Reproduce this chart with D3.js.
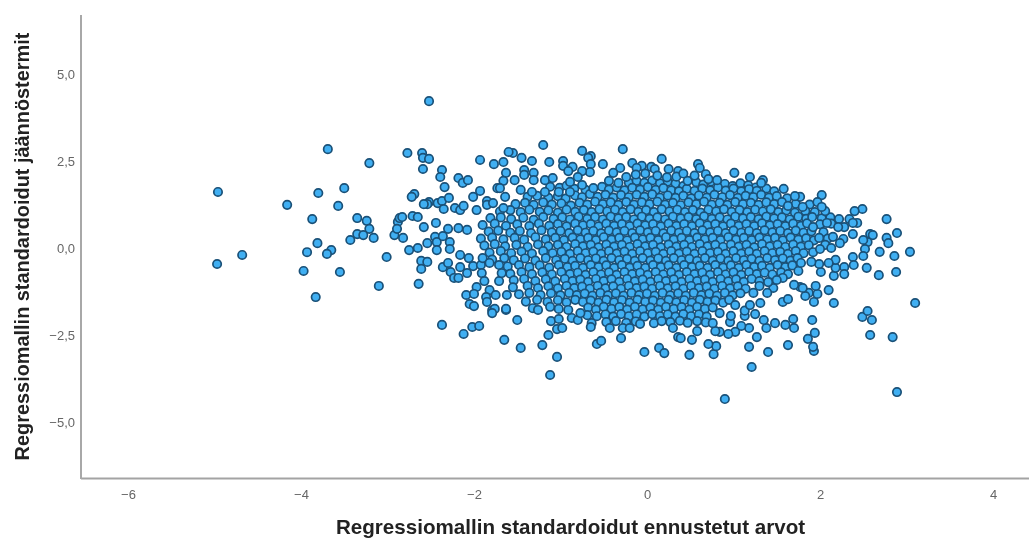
<!DOCTYPE html>
<html><head><meta charset="utf-8">
<script src="https://cdn.jsdelivr.net/npm/d3@7"></script>
<style>html,body{margin:0;padding:0;background:#fff;overflow:hidden}svg{display:block;filter:blur(.5px)}</style>
</head><body><svg id="c" width="1029" height="539"></svg>
<script>
const xLabel="Regressiomallin standardoidut ennustetut arvot";
const yLabel="Regressiomallin standardoidut jäännöstermit";
const xTicks=[-6,-4,-2,0,2,4];
const yTicks=[-5,-2.5,0,2.5,5];
const leftPoints=[[-4.96,1.61],[-4.68,-.2],[-4.97,-.46],[-4.16,1.24],[-3.69,2.84],[-3.21,2.44],[-3.8,1.58],[-3.5,1.72],[-3.57,1.21],[-3.87,.83],[-3.35,.86],[-3.24,.78],[-3.21,.55],[-3.35,.4],[-3.28,.37],[-3.16,.29],[-3.43,.23],[-3.81,.14],[-3.93,-.12],[-3.65,-.06],[-3.7,-.17],[-3.01,-.26],[-3.97,-.66],[-3.55,-.69],[-3.83,-1.41],[-3.1,-1.09],[-2.92,.37],[-2.88,.75],[-2.89,.55],[-2.86,.86],[-2.52,4.22],[-2.77,2.73],[-2.6,2.73],[-2.59,2.59],[-2.52,2.56],[-2.59,2.27],[-2.37,2.24],[-2.39,2.04],[-2.34,1.75],[-2.18,2.01],[-2.13,1.87],[-2.07,1.95],[-1.93,2.53],[-1.77,2.41],[-1.66,2.47],[-1.6,2.76],[-1.63,2.16],[-1.66,1.93],[-1.73,1.72],[-1.7,1.72],[-1.93,1.64],[-2.69,1.55],[-2.72,1.47],[-2.52,1.32],[-2.54,1.26],[-2.58,1.26],[-2.42,1.29],[-2.37,1.35],[-2.29,1.44],[-2.35,1.12],[-2.22,1.15],[-2.16,1.09],[-2.12,1.21],[-2.01,1.47],[-1.97,1.09],[-1.85,1.35],[-1.85,1.24],[-1.78,1.29],[-1.64,1.47],[-1.66,1.15],[-2.83,.89],[-2.71,.92],[-2.65,.89],[-2.82,.29],[-2.58,.6],[-2.44,.72],[-2.3,.55],[-2.18,.57],[-2.08,.52],[-2.54,.14],[-2.45,.32],[-2.43,.17],[-2.36,.34],[-2.28,.17],[-2.43,-.06],[-2.28,-.03],[-2.75,-.06],[-2.65,0],[-2.61,-.37],[-2.54,-.4],[-2.61,-.6],[-2.36,-.55],[-2.3,-.43],[-2.27,-.69],[-2.23,-.86],[-2.18,-.86],[-2.16,-.2],[-2.06,-.29],[-2.16,-.55],[-2.08,-.72],[-2.01,-.52],[-1.92,-.49],[-1.9,-.29],[-1.82,-.43],[-1.91,-.72],[-1.88,-.95],[-1.71,-.49],[-1.71,-.95],[-1.68,-.72],[-2.64,-1.03],[-1.97,-1.12],[-2.09,-1.35],[-2,-1.32],[-1.82,-1.21],[-1.86,-1.41],[-1.75,-1.35],[-1.85,-1.55],[-2.05,-1.61],[-2,-1.67],[-1.76,-1.75],[-1.79,-1.87],[-1.63,-1.75],[-1.62,-1.35],[-2.37,-2.21],[-2.12,-2.47],[-2.02,-2.27],[-1.94,-2.24]];
const lowerPoints=[[-1.65,-2.64],[-1.46,-2.87],[-1.21,-2.79],[-1.04,-3.13],[-1.12,-3.65],[-1.5,-2.07],[-1.14,-2.5],[-1.04,-2.33],[-.98,-2.3],[-1.11,-2.1],[-1.02,-2.04],[-1.63,-1.78],[-1.79,-1.79],[-1.26,-1.78],[-.58,-2.76],[-.53,-2.67],[-.3,-2.59],[-.43,-2.3],[-.64,-2.16],[-.65,-2.27],[-.28,-2.3],[-.2,-2.3],[-.03,-2.99],[.14,-2.87],[.2,-3.02],[.49,-3.07],[.52,-2.64],[.36,-2.56],[.39,-2.59],[.3,-2.3],[.58,-2.39],[-.87,-2.01],[-.8,-2.07],[-.77,-1.87],[-.91,-1.78],[.08,-2.16],[.17,-2.1],[-.08,-2.18],[.9,-4.34],[2.89,-4.14],[1.21,-3.42],[1.4,-2.99],[1.18,-2.84],[1.27,-2.56],[.77,-3.05],[.8,-2.82],[.71,-2.76],[1.63,-2.79],[1.93,-2.96],[1.92,-2.84],[1.86,-2.61],[1.94,-2.44],[1.91,-2.07],[1.7,-2.3],[1.69,-2.04],[1.6,-2.21],[1.48,-2.16],[1.38,-2.3],[1.35,-2.07],[1.18,-2.3],[1.09,-2.24],[1.02,-2.41],[.94,-2.47],[.84,-2.41],[.79,-2.39],[.76,-2.16],[.96,-2.13],[.97,-1.95],[1.25,-1.9],[1.13,-1.95],[1.13,-1.8],[.84,-1.87],[1.31,-1.58],[1.19,-1.64],[1.02,-1.64]];
const rightPoints=[[1.57,-1.55],[1.63,-1.47],[1.93,-1.55],[1.97,-1.32],[2.16,-1.58],[1.87,-1.29],[1.83,-1.38],[1.95,-1.09],[2.1,-1.21],[1.77,-1.12],[1.7,-1.06],[1.8,-1.15],[1.57,-.86],[1.5,-.92],[1.46,-1.15],[1.4,-.98],[1.39,-1.29],[1.23,-1.29],[2.49,-1.98],[2.55,-1.81],[2.6,-2.07],[2.58,-2.5],[2.84,-2.56],[3.1,-1.58],[2.88,-.69],[2.68,-.78],[2.54,-.57],[2.86,-.23],[3.04,-.11],[2.69,-.11],[2.89,.43],[2.77,.29],[2.79,.14],[2.77,.83],[2.58,.4],[2.61,.37],[2.55,.17],[2.5,.23],[2.52,-.03],[2.5,-.23],[2.38,-.26],[2.39,-.49],[2.38,.4],[2.28,-.55],[2.28,-.75],[2.16,-.8],[2.18,-.57],[2.18,-.34],[2.1,-.43],[2.01,-.69],[1.99,-.46],[1.9,-.4],[1.75,-.66],[1.78,-.43],[2.49,1.12],[2.4,1.06],[2.34,.83],[2.43,.72],[2.38,.72],[2.22,.83],[2.28,.6],[2.21,.6],[2.27,.26],[2.23,.14],[2.15,.32],[2.13,0],[2,-.03],[1.99,.29],[2.02,1.52],[1.97,1.32],[2.06,1.06],[2.02,1.18],[2.08,.72],[1.91,.89],[1.92,.6],[1.77,1.47],[1.71,1.49],[1.58,1.7],[1.63,1.21],[1.8,1.18],[1.19,2.04],[1.01,2.16],[1.34,1.95],[1.32,1.87],[.81,1.95]];
const upperPoints=[[-1.55,2.73],[-1.45,2.59],[-1.33,2.5],[-1.2,2.96],[-1.13,2.47],[-.97,2.5],[-.97,2.36],[-.86,2.33],[-.75,2.79],[-.65,2.64],[-.68,2.59],[-.65,2.41],[-.51,2.41],[-.66,2.18],[-.75,2.21],[-.91,2.21],[-.28,2.84],[-.17,2.44],[-.06,2.36],[.17,2.56],[.05,2.33],[.09,2.27],[-.31,2.3],[-.12,2.3],[.25,2.27],[.36,2.21],[.47,1.93],[.59,2.41],[.61,2.3],[-1.42,2.24],[-1.31,2.16],[-1.42,2.1],[-1.53,1.95],[-1.31,1.95],[-1.18,1.95],[-1.09,2.01],[-.89,1.9],[-.8,2.04],[-.75,1.81],[-.62,1.72],[-.44,1.93],[-.39,2.16],[-.24,2.04],[-.33,1.87],[-1.46,1.67],[-1.33,1.61],[-1.18,1.61],[-1.02,1.61],[-.89,1.61],[.68,2.12],[.71,1.98],[-.02,2.14],[.12,2.08],[.23,2.03],[.34,2.05],[-.13,2.11],[.55,2.08],[.42,2.14]];
const corePoints=[
[-.21,1.88],[-.12,1.93],[-.03,1.87],[.06,1.94],[.15,1.86],[.24,1.91],[.33,1.85],[.42,1.78],[.57,1.89],[.65,1.82],[.74,1.91],[.9,1.84],[.99,1.78],[1.08,1.86],[1.17,1.8],[1.26,1.74],
[-1.12,1.76],[-1.01,1.73],[-.93,1.79],[-.84,1.7],[-.71,1.67],[-.52,1.76],[-.44,1.68],[-.35,1.74],[-.26,1.66],[-.17,1.73],[-.08,1.68],[.01,1.75],[.1,1.67],[.19,1.72],[.28,1.66],[.37,1.63],[.46,1.7],[.55,1.64],[.64,1.71],[.73,1.66],[.82,1.74],[.91,1.65],[1,1.71],[1.09,1.63],[1.18,1.69],[1.27,1.64],[1.38,1.71],[1.47,1.63],
[-1.38,1.47],[-1.27,1.5],[-1.14,1.44],[-1.03,1.49],[-.94,1.42],[-.83,1.51],[-.75,1.46],[-.66,1.55],[-.57,1.47],[-.48,1.53],[-.39,1.45],[-.3,1.52],[-.21,1.46],[-.12,1.53],[-.03,1.47],[.06,1.54],[.15,1.45],[.24,1.51],[.33,1.44],[.42,1.5],[.51,1.43],[.6,1.51],[.69,1.45],[.78,1.53],[.87,1.46],[.96,1.52],[1.05,1.44],[1.14,1.5],[1.23,1.46],[1.32,1.53],[1.41,1.45],[1.5,1.49],[1.62,1.43],
[-1.52,1.26],[-1.41,1.3],[-1.31,1.24],[-1.2,1.31],[-1.1,1.25],[-.99,1.28],[-.88,1.22],[-.78,1.3],[-.69,1.25],[-.6,1.33],[-.51,1.26],[-.42,1.31],[-.33,1.24],[-.24,1.32],[-.15,1.25],[-.06,1.31],[.03,1.26],[.12,1.33],[.21,1.25],[.3,1.3],[.39,1.23],[.48,1.31],[.57,1.26],[.66,1.33],[.75,1.25],[.84,1.3],[.93,1.24],[1.02,1.32],[1.11,1.26],[1.2,1.3],[1.29,1.24],[1.38,1.31],[1.47,1.26],[1.56,1.32],[1.72,1.27],[1.88,1.25],
[-1.7,1.05],[-1.58,1.09],[-1.46,1.03],[-1.36,1.1],[-1.24,1.04],[-1.14,1.08],[-1.03,1.02],[-.93,1.1],[-.83,1.04],[-.73,1.09],[-.64,1.03],[-.55,1.11],[-.46,1.05],[-.37,1.1],[-.28,1.03],[-.19,1.11],[-.1,1.04],[-.01,1.09],[.08,1.03],[.17,1.11],[.26,1.05],[.35,1.1],[.44,1.03],[.53,1.09],[.62,1.02],[.71,1.1],[.8,1.05],[.89,1.11],[.98,1.04],[1.07,1.09],[1.16,1.03],[1.25,1.1],[1.34,1.05],[1.43,1.11],[1.52,1.03],[1.61,1.08],[1.71,1.02],[1.83,1.06],[1.94,1.03],
[-1.81,.86],[-1.69,.88],[-1.57,.83],[-1.43,.87],[-1.31,.81],[-1.2,.89],[-1.08,.84],[-.98,.88],[-.89,.82],[-.79,.9],[-.69,.84],[-.6,.89],[-.51,.82],[-.42,.9],[-.33,.85],[-.24,.89],[-.15,.82],[-.06,.9],[.03,.84],[.12,.88],[.21,.82],[.3,.9],[.39,.85],[.48,.89],[.57,.83],[.66,.91],[.75,.84],[.84,.88],[.93,.82],[1.02,.9],[1.11,.85],[1.2,.89],[1.29,.83],[1.38,.9],[1.47,.85],[1.56,.88],[1.65,.82],[1.75,.9],[1.84,.84],[2.02,.85],[2.12,.88],
[-1.9,.66],[-1.76,.7],[-1.63,.64],[-1.5,.68],[-1.36,.63],[-1.25,.7],[-1.13,.64],[-1.03,.69],[-.93,.62],[-.83,.7],[-.74,.65],[-.65,.69],[-.56,.62],[-.47,.7],[-.38,.64],[-.29,.69],[-.2,.63],[-.11,.7],[-.02,.65],[.07,.69],[.16,.62],[.25,.7],[.34,.64],[.43,.69],[.52,.63],[.61,.71],[.7,.65],[.79,.69],[.88,.62],[.97,.7],[1.06,.64],[1.15,.69],[1.24,.63],[1.33,.71],[1.42,.65],[1.51,.69],[1.6,.63],[1.69,.7],[1.78,.64],[1.85,.71],[2,.68],[2.13,.7],
[-1.83,.47],[-1.72,.5],[-1.58,.44],[-1.47,.49],[-1.34,.43],[-1.22,.51],[-1.1,.45],[-1,.49],[-.9,.43],[-.8,.51],[-.71,.44],[-.62,.49],[-.53,.42],[-.44,.5],[-.35,.45],[-.26,.49],[-.17,.43],[-.08,.51],[.01,.45],[.1,.49],[.19,.42],[.28,.5],[.37,.44],[.46,.49],[.55,.43],[.64,.51],[.73,.45],[.82,.49],[.91,.43],[1,.5],[1.09,.44],[1.18,.49],[1.27,.43],[1.36,.51],[1.45,.45],[1.54,.49],[1.63,.43],[1.72,.5],[1.81,.44],[1.9,.48],[2.04,.46],
[-1.92,.27],[-1.79,.3],[-1.66,.25],[-1.53,.29],[-1.42,.24],[-1.29,.31],[-1.17,.25],[-1.06,.29],[-.96,.23],[-.86,.3],[-.77,.25],[-.68,.29],[-.59,.23],[-.5,.31],[-.41,.24],[-.32,.29],[-.23,.22],[-.14,.3],[-.05,.25],[.04,.29],[.13,.23],[.22,.31],[.31,.24],[.4,.29],[.49,.23],[.58,.3],[.67,.25],[.76,.29],[.85,.23],[.94,.31],[1.03,.24],[1.12,.29],[1.21,.23],[1.3,.3],[1.39,.25],[1.48,.29],[1.57,.22],[1.66,.3],[1.75,.24],[1.84,.28],[1.93,.22],[2.09,.27],
[-1.88,.07],[-1.76,.11],[-1.64,.05],[-1.51,.09],[-1.38,.03],[-1.26,.1],[-1.14,.05],[-1.03,.09],[-.93,.03],[-.83,.11],[-.74,.05],[-.65,.09],[-.56,.02],[-.47,.1],[-.38,.04],[-.29,.09],[-.2,.03],[-.11,.11],[-.02,.05],[.07,.09],[.16,.02],[.25,.1],[.34,.04],[.43,.09],[.52,.03],[.61,.11],[.7,.05],[.79,.09],[.88,.03],[.97,.1],[1.06,.04],[1.15,.09],[1.24,.02],[1.33,.11],[1.42,.05],[1.51,.09],[1.6,.03],[1.69,.1],[1.78,.04],[1.87,.08],[2.06,.09],
[-1.82,-.13],[-1.69,-.09],[-1.57,-.15],[-1.45,-.1],[-1.33,-.16],[-1.2,-.09],[-1.09,-.15],[-.99,-.11],[-.89,-.17],[-.8,-.09],[-.71,-.15],[-.62,-.1],[-.53,-.17],[-.44,-.09],[-.35,-.16],[-.26,-.1],[-.17,-.17],[-.08,-.09],[.01,-.15],[.1,-.11],[.19,-.17],[.28,-.09],[.37,-.16],[.46,-.1],[.55,-.17],[.64,-.09],[.73,-.15],[.82,-.11],[.91,-.17],[1,-.09],[1.09,-.16],[1.18,-.1],[1.27,-.17],[1.36,-.09],[1.45,-.15],[1.54,-.11],[1.63,-.17],[1.72,-.09],[1.81,-.15],[1.92,-.12],
[-1.79,-.33],[-1.65,-.29],[-1.54,-.35],[-1.41,-.3],[-1.29,-.36],[-1.17,-.29],[-1.05,-.35],[-.95,-.31],[-.86,-.37],[-.77,-.29],[-.68,-.35],[-.59,-.3],[-.5,-.37],[-.41,-.29],[-.32,-.35],[-.23,-.31],[-.14,-.37],[-.05,-.29],[.04,-.36],[.13,-.3],[.22,-.37],[.31,-.29],[.4,-.35],[.49,-.31],[.58,-.37],[.67,-.29],[.76,-.36],[.85,-.3],[.94,-.37],[1.03,-.29],[1.12,-.35],[1.21,-.31],[1.3,-.37],[1.39,-.29],[1.48,-.35],[1.57,-.3],[1.66,-.36],[1.74,-.29],
[-1.61,-.53],[-1.48,-.49],[-1.36,-.55],[-1.24,-.5],[-1.13,-.56],[-1.02,-.49],[-.92,-.55],[-.83,-.51],[-.74,-.57],[-.65,-.49],[-.56,-.55],[-.47,-.5],[-.38,-.57],[-.29,-.49],[-.2,-.56],[-.11,-.51],[-.02,-.57],[.07,-.49],[.16,-.55],[.25,-.5],[.34,-.57],[.43,-.49],[.52,-.55],[.61,-.51],[.7,-.57],[.79,-.49],[.88,-.56],[.97,-.5],[1.06,-.57],[1.15,-.49],[1.24,-.55],[1.33,-.51],[1.42,-.57],[1.51,-.49],[1.6,-.55],[1.68,-.5],
[-1.58,-.74],[-1.45,-.69],[-1.33,-.75],[-1.21,-.7],[-1.1,-.76],[-.99,-.69],[-.89,-.75],[-.8,-.71],[-.71,-.77],[-.62,-.69],[-.53,-.76],[-.44,-.7],[-.35,-.77],[-.26,-.69],[-.17,-.75],[-.08,-.71],[.01,-.77],[.1,-.69],[.19,-.76],[.28,-.7],[.37,-.77],[.46,-.69],[.55,-.75],[.64,-.71],[.73,-.77],[.82,-.69],[.91,-.76],[1,-.7],[1.09,-.77],[1.18,-.69],[1.27,-.75],[1.36,-.71],[1.45,-.76],[1.55,-.7],[1.63,-.75],
[-1.54,-.93],[-1.42,-.89],[-1.29,-.95],[-1.17,-.9],[-1.06,-.96],[-.95,-.89],[-.86,-.95],[-.77,-.91],[-.68,-.97],[-.59,-.89],[-.5,-.95],[-.41,-.9],[-.32,-.97],[-.23,-.89],[-.14,-.96],[-.05,-.91],[.04,-.97],[.13,-.89],[.22,-.95],[.31,-.9],[.4,-.97],[.49,-.89],[.58,-.95],[.67,-.91],[.76,-.97],[.85,-.89],[.94,-.96],[1.03,-.9],[1.12,-.97],[1.21,-.89],[1.3,-.95],
[-1.55,-1.13],[-1.38,-1.09],[-1.26,-1.15],[-1.14,-1.1],[-1.03,-1.16],[-.93,-1.09],[-.84,-1.15],[-.75,-1.11],[-.66,-1.17],[-.57,-1.09],[-.48,-1.16],[-.39,-1.1],[-.3,-1.17],[-.21,-1.09],[-.12,-1.15],[-.03,-1.11],[.06,-1.17],[.15,-1.09],[.24,-1.16],[.33,-1.1],[.42,-1.17],[.51,-1.09],[.6,-1.15],[.69,-1.11],[.78,-1.17],[.87,-1.09],[.96,-1.16],[1.05,-1.1],[1.14,-1.17],[1.3,-1.09],
[-1.48,-1.33],[-1.36,-1.29],[-1.23,-1.35],[-1.11,-1.3],[-1,-1.36],[-.9,-1.29],[-.81,-1.35],[-.72,-1.31],[-.63,-1.37],[-.54,-1.29],[-.45,-1.36],[-.36,-1.3],[-.27,-1.37],[-.18,-1.29],[-.09,-1.35],[0,-1.31],[.09,-1.37],[.18,-1.29],[.27,-1.36],[.36,-1.3],[.45,-1.37],[.54,-1.29],[.63,-1.35],[.72,-1.31],[.81,-1.37],[.9,-1.29],[.99,-1.36],[1.08,-1.3],
[-1.4,-1.54],[-1.27,-1.49],[-1.15,-1.55],[-1.03,-1.5],[-.93,-1.56],[-.83,-1.49],[-.74,-1.55],[-.65,-1.51],[-.56,-1.57],[-.47,-1.49],[-.38,-1.56],[-.29,-1.5],[-.2,-1.57],[-.11,-1.49],[-.02,-1.55],[.07,-1.51],[.16,-1.57],[.25,-1.49],[.34,-1.56],[.43,-1.5],[.52,-1.57],[.61,-1.49],[.7,-1.55],[.79,-1.51],[.88,-1.57],[.95,-1.49],
[-1.32,-1.73],[-1.12,-1.69],[-1.02,-1.75],[-.68,-1.71],[-.59,-1.77],[-.5,-1.69],[-.41,-1.75],[-.32,-1.7],[-.23,-1.77],[-.14,-1.69],[-.05,-1.76],[.04,-1.71],[.13,-1.77],[.22,-1.69],[.31,-1.75],[.4,-1.7],[.49,-1.77],[.58,-1.69],[.67,-1.75],[.76,-1.71],
[-.69,-1.93],[-.58,-1.96],[-.48,-1.91],[-.39,-1.97],[-.3,-1.9],[-.21,-1.96],[-.12,-1.91],[-.03,-1.97],[.06,-1.9],[.15,-1.96],[.24,-1.91],[.33,-1.97],[.42,-1.9],[.51,-1.96],[.6,-1.91],[.69,-1.97],
[-.47,-2.13],[-.36,-2.1],[-.24,-2.15],[-.13,-2.11],[.27,-2.13],[.38,-2.09],[.47,-2.15],[.58,-2.1],[.68,-2.14]];

const allPoints=[...corePoints,...upperPoints,...lowerPoints,...rightPoints,...leftPoints];
const svg=d3.select("#c");
const x=d3.scaleLinear().domain([-6,4]).range([128,993]);
const y=d3.scaleLinear().domain([-5,5]).range([422,74]);
const fmtY=v=>d3.format(".1f")(Math.abs(v)).replace(".",",");
const gx=svg.append("g").attr("transform","translate(0,478.5)")
 .call(d3.axisBottom(x).tickValues(xTicks).tickSize(0).tickPadding(11).tickFormat(v=>(v<0?"−":"")+Math.abs(v)));
const gy=svg.append("g").attr("transform","translate(81,0)")
 .call(d3.axisLeft(y).tickValues(yTicks).tickSize(0).tickPadding(6).tickFormat(v=>(v<0?"−":"")+fmtY(v)));
gx.select(".domain").attr("d","M81,0H1029").attr("stroke","#a3a3a3").attr("stroke-width",2);
gy.select(".domain").attr("d","M0,15V479").attr("stroke","#a8a8a8").attr("stroke-width",2);
svg.selectAll(".tick text").attr("font-family","Liberation Sans").attr("font-size",13).attr("fill","#666");
svg.append("g").selectAll("circle").data(allPoints).join("circle")
 .attr("cx",d=>x(d[0])).attr("cy",d=>y(d[1])).attr("r",4.2)
 .attr("fill","#40aff2").attr("stroke","#1a5178").attr("stroke-width",1.7);
svg.append("text").attr("x",570.5).attr("y",534).attr("text-anchor","middle")
 .attr("font-family","Liberation Sans").attr("font-weight","bold").attr("font-size",20.6).attr("fill","#222").text(xLabel);
svg.append("text").attr("transform","translate(28.5,246.5) rotate(-90)").attr("text-anchor","middle")
 .attr("font-family","Liberation Sans").attr("font-weight","bold").attr("font-size",19.9).attr("fill","#222").text(yLabel);
</script></body></html>
